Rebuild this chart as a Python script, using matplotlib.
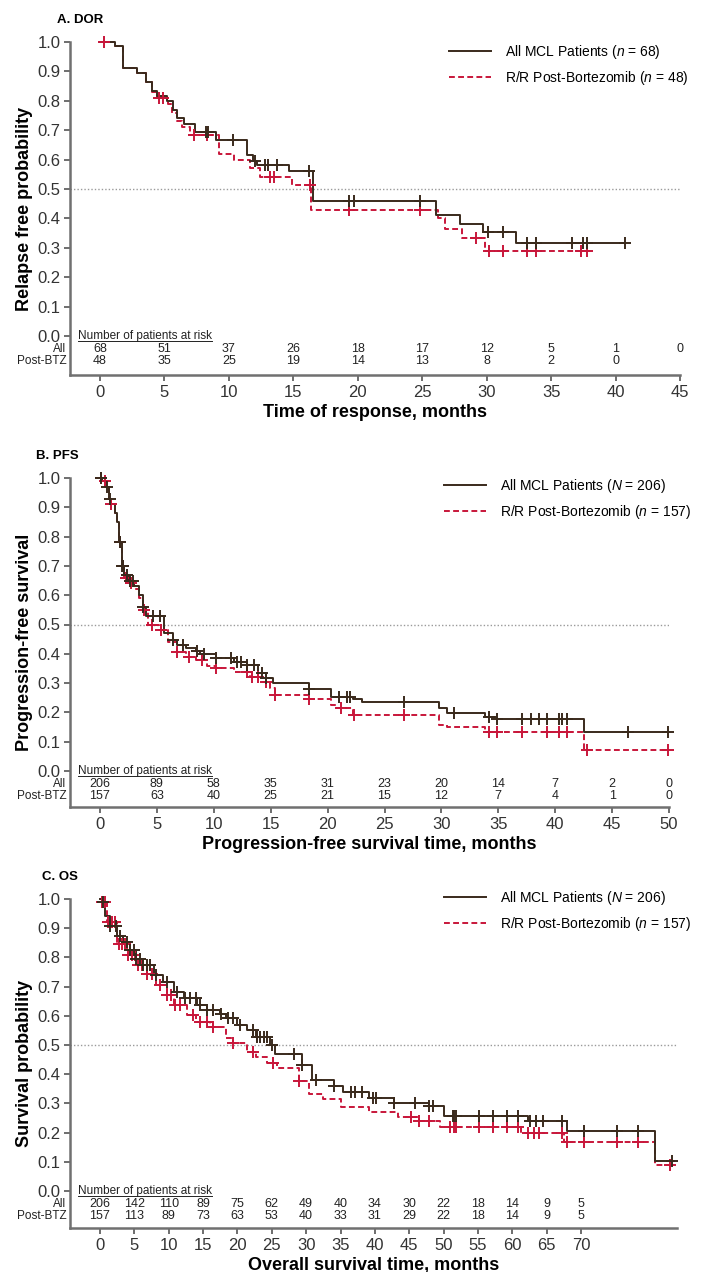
import numpy as np
import matplotlib
matplotlib.use("Agg")
import matplotlib.pyplot as plt
from matplotlib.lines import Line2D

plt.rcParams["font.family"] = ["Liberation Sans", "DejaVu Sans"]
plt.rcParams["mathtext.fontset"] = "custom"
plt.rcParams["mathtext.rm"] = "Liberation Sans"
plt.rcParams["mathtext.it"] = "Liberation Sans:italic"

# ---- A. DOR ----
a_all_t = [0, 1.2, 1.8, 2.85, 3.6, 4.0, 4.4, 5.2, 5.7, 6.0, 6.5, 7.4, 9.0, 11.4, 11.9, 12.2,
           14.7, 16.5, 26.1, 27.9, 29.7, 32.3]
a_all_s = [1.0, 0.985, 0.91, 0.895, 0.865, 0.835, 0.815, 0.80, 0.77, 0.74, 0.72, 0.695, 0.665,
           0.615, 0.595, 0.58, 0.56, 0.46, 0.41, 0.38, 0.355, 0.315]
a_all_end = 40.7
a_all_c = [8.2, 8.4, 10.3, 12.0, 12.8, 13.0, 13.7, 16.2, 19.3, 19.7, 24.8, 30.1, 31.3, 33.1,
           33.8, 36.6, 37.5, 37.8, 40.7]
a_btz_t = [0, 1.2, 1.8, 2.85, 3.6, 4.0, 4.4, 5.3, 5.6, 6.0, 6.4, 7.0, 9.2, 10.4, 11.6, 12.4,
           14.9, 16.4, 26.2, 26.8, 28.1, 29.9]
a_btz_s = [1.0, 0.985, 0.91, 0.895, 0.865, 0.83, 0.81, 0.79, 0.76, 0.73, 0.71, 0.685, 0.62,
           0.60, 0.57, 0.54, 0.515, 0.43, 0.40, 0.365, 0.335, 0.29]
a_btz_end = 38.0
a_btz_c = [0.3, 4.6, 4.9, 7.3, 8.3, 13.2, 13.5, 16.3, 19.3, 24.8, 29.2, 30.2, 31.3, 33.1,
           33.8, 37.3, 37.8]
a_risk_t = [0, 5, 10, 15, 20, 25, 30, 35, 40, 45]
a_risk_all = [68, 51, 37, 26, 18, 17, 12, 5, 1, 0]
a_risk_btz = [48, 35, 25, 19, 14, 13, 8, 2, 0]

# ---- B. PFS ----
b_all_t = [0, 0.2, 0.5, 0.8, 1.0, 1.3, 1.5, 1.7, 1.9, 2.1, 2.5, 3.0, 3.4, 3.8, 4.0, 5.6, 6.4,
           6.8, 7.6, 8.4, 8.8, 10.2, 11.8, 12.9, 13.9, 14.6, 15.2, 18.4, 20.3, 22.2, 23.0,
           29.8, 30.5, 33.8, 34.9, 42.5]
b_all_s = [1.0, 0.99, 0.97, 0.93, 0.91, 0.88, 0.85, 0.78, 0.70, 0.67, 0.65, 0.63, 0.60, 0.56,
           0.53, 0.47, 0.447, 0.43, 0.42, 0.41, 0.40, 0.385, 0.373, 0.362, 0.333, 0.316, 0.30,
           0.279, 0.254, 0.245, 0.234, 0.214, 0.199, 0.185, 0.177, 0.134]
b_all_end = 50.0
b_all_c = [0.1, 0.6, 0.9, 1.8, 1.9, 2.05, 2.35, 2.6, 2.9, 3.8, 4.7, 5.3, 6.4, 7.3, 8.5, 9.1,
           10.2, 11.5, 12.0, 12.4, 12.9, 13.5, 14.2, 14.6, 18.4, 21.0, 21.7, 22.0, 26.7, 31.1,
           34.2, 34.9, 37.1, 37.9, 38.6, 39.3, 40.3, 40.6, 41.0, 46.4, 49.9]
b_btz_t = [0, 0.2, 0.5, 0.8, 1.0, 1.3, 1.5, 1.7, 1.9, 2.1, 2.5, 3.0, 3.4, 3.8, 4.2, 5.2, 6.0,
           6.8, 7.6, 8.4, 9.4, 10.2, 11.8, 13.2, 14.2, 14.9, 15.4, 18.4, 20.3, 20.8, 22.2,
           29.8, 30.5, 33.8, 42.5]
b_btz_s = [1.0, 0.99, 0.97, 0.93, 0.91, 0.88, 0.85, 0.78, 0.70, 0.66, 0.64, 0.62, 0.59, 0.55,
           0.50, 0.48, 0.44, 0.407, 0.39, 0.379, 0.36, 0.35, 0.339, 0.322, 0.305, 0.282,
           0.259, 0.245, 0.225, 0.215, 0.191, 0.157, 0.149, 0.134, 0.072]
b_btz_end = 50.0
b_btz_c = [0.1, 0.4, 1.0, 1.8, 2.0, 2.3, 2.7, 3.9, 4.6, 5.4, 6.8, 7.8, 9.0, 10.2, 12.9, 13.4,
           13.9, 14.6, 15.4, 18.4, 21.2, 22.3, 26.7, 34.2, 34.9, 37.1, 39.3, 40.3, 41.0, 42.8,
           49.9]
b_risk_t = [0, 5, 10, 15, 20, 25, 30, 35, 40, 45, 50]
b_risk_all = [206, 89, 58, 35, 31, 23, 20, 14, 7, 2, 0]
b_risk_btz = [157, 63, 40, 25, 21, 15, 12, 7, 4, 1, 0]

# ---- C. OS ----
c_all_t = [0, 0.25, 0.7, 1.46, 2.43, 3.4, 4.37, 5.3, 6.3, 7.8, 9.2, 10.7, 12.2, 14.1, 15.6,
           17.5, 18.4, 19.9, 21.4, 22.7, 24.7, 25.5, 29.4, 30.9, 34.0, 35.3, 39.2, 42.8, 47.9,
           50.0, 62.3, 68.0, 80.7]
c_all_s = [1.0, 0.99, 0.943, 0.909, 0.875, 0.852, 0.824, 0.795, 0.773, 0.739, 0.716, 0.682,
           0.66, 0.636, 0.619, 0.605, 0.591, 0.568, 0.551, 0.527, 0.50, 0.47, 0.43, 0.38,
           0.359, 0.34, 0.318, 0.301, 0.29, 0.256, 0.24, 0.205, 0.102]
c_all_end = 83.5
c_all_c = [0.5, 1.5, 2.4, 2.9, 3.9, 4.4, 4.9, 5.3, 5.8, 6.3, 6.8, 7.3, 8.2, 9.7, 11.2, 12.4,
           13.1, 14.0, 14.6, 15.6, 16.5, 17.6, 18.6, 19.4, 20.4, 22.3, 22.8, 23.3, 23.8, 24.3,
           25.0, 28.2, 29.4, 31.5, 34.0, 36.6, 37.1, 38.1, 39.7, 40.2, 42.8, 45.9, 47.9, 48.4,
           51.3, 51.5, 51.8, 55.1, 57.2, 59.2, 60.8, 62.6, 63.4, 64.4, 67.2, 70.5, 75.2, 78.3,
           83.2]
c_btz_t = [0, 0.25, 0.97, 2.43, 3.9, 5.3, 6.8, 8.2, 9.7, 10.7, 12.6, 14.0, 16.0, 18.4, 19.4,
           21.4, 22.7, 24.3, 25.7, 28.9, 30.4, 32.5, 35.0, 39.2, 43.3, 46.4, 49.5, 61.3, 67.5,
           80.7]
c_btz_s = [1.0, 0.99, 0.92, 0.847, 0.807, 0.773, 0.744, 0.705, 0.67, 0.636, 0.602, 0.58,
           0.563, 0.523, 0.506, 0.477, 0.46, 0.438, 0.42, 0.377, 0.332, 0.315, 0.286, 0.269,
           0.252, 0.24, 0.218, 0.198, 0.168, 0.088]
c_btz_end = 83.1
c_btz_c = [0.25, 0.7, 1.2, 1.7, 2.2, 2.7, 3.2, 3.6, 4.1, 4.6, 5.1, 5.6, 6.1, 6.8, 7.5, 8.7,
           9.7, 10.4, 10.9, 11.7, 13.6, 14.6, 15.6, 16.5, 19.4, 22.3, 25.2, 28.9, 45.3, 46.4,
           47.9, 51.0, 51.5, 51.8, 55.1, 57.2, 59.2, 60.8, 62.3, 63.1, 63.9, 67.2, 68.0, 70.5,
           75.2, 78.3, 82.9]
c_risk_t = [0, 5, 10, 15, 20, 25, 30, 35, 40, 45, 50, 55, 60, 65, 70]
c_risk_all = [206, 142, 110, 89, 75, 62, 49, 40, 34, 30, 22, 18, 14, 9, 5]
c_risk_btz = [157, 113, 89, 73, 63, 53, 40, 33, 31, 29, 22, 18, 14, 9, 5]

SOLID = "#3a2a1c"
RED = "#c8163a"
W, H = 704, 1272


def km(ax, t, s, end, cens, color, dashed):
    t = np.asarray(t, float)
    s = np.asarray(s, float)
    kw = dict(color=color, lw=1.4, clip_on=False, zorder=3 if not dashed else 2)
    line, = ax.step(np.r_[t, end], np.r_[s, s[-1]], where="post", **kw)
    if dashed:
        line.set_dashes((3.0, 1.7))
    idx = np.searchsorted(t, cens, side="right") - 1
    ax.plot(cens, s[idx], "+", color=color, ms=8, mew=1.4, clip_on=False, zorder=4)


def panel(px, title, title_x, xmax, xrange_px, xlabel, ylabel, risk_t, risk_all, risk_btz,
          ticks, leg_labels, leg_pos):
    top, zero, bottom = px
    x0, xr = xrange_px
    ppm = (xr - x0) / ticks[-1]
    xlim_l = -(x0 - 70) / ppm
    x_right = x0 + xmax * ppm
    ax = fig.add_axes([70 / W, 1 - bottom / H, (x_right - 70) / W, (bottom - top) / H])
    ax.set_xlim(xlim_l, xmax)
    ax.set_ylim(-(bottom - zero) / (zero - top), 1.0)
    for side in ("top", "right"):
        ax.spines[side].set_visible(False)
    for side in ("left", "bottom"):
        ax.spines[side].set_color("#707070")
        ax.spines[side].set_linewidth(1.8)
    ax.set_yticks(np.arange(0, 1.01, 0.1))
    ax.set_yticklabels([f"{v:.1f}" for v in np.arange(0, 1.01, 0.1)])
    ax.set_xticks(ticks)
    ax.tick_params(axis="both", colors="#555555", labelcolor="#333333", labelsize=12,
                   length=4, width=1.2, pad=3)
    ax.axhline(0.5, color="#9a9a9a", lw=1.0, ls=(0, (1, 1.5)), zorder=1)
    ax.set_xlabel(xlabel, fontsize=13, fontweight="bold", labelpad=3)
    ax.set_ylabel(ylabel, fontsize=13, fontweight="bold", labelpad=3)
    fig.text(title_x / W, 1 - (top - 22) / H, title, fontsize=9.5, fontweight="bold",
             va="center", ha="left")

    # number at risk
    y_all = -(13 / (zero - top))
    y_btz = -(25 / (zero - top))
    hd = ax.text(xlim_l + 8 / ppm, 0.0, "Number of patients at risk", fontsize=8.5,
                 va="center", ha="left", color="#222222")
    for tt, v in zip(risk_t, risk_all):
        ax.text(tt, y_all, str(v), fontsize=9, ha="center", va="center", color="#222222")
    for tt, v in zip(risk_t, risk_btz):
        ax.text(tt, y_btz, str(v), fontsize=9, ha="center", va="center", color="#222222")
    ax.text(-0.006, y_all, "All", transform=ax.get_yaxis_transform(), fontsize=8.5,
            ha="right", va="center", color="#222222")
    ax.text(-0.006, y_btz, "Post-BTZ", transform=ax.get_yaxis_transform(), fontsize=8.5,
            ha="right", va="center", color="#222222")

    handles = [Line2D([], [], color=SOLID, lw=1.4),
               Line2D([], [], color=RED, lw=1.4, dashes=(3.0, 1.7))]
    ax.legend(handles, leg_labels, loc="upper left",
              bbox_to_anchor=(leg_pos[0] / W, 1 - leg_pos[1] / H),
              bbox_transform=fig.transFigure, frameon=False, fontsize=10,
              handlelength=3.0, handletextpad=1.0, labelspacing=0.55,
              borderpad=0, borderaxespad=0)
    return ax, hd


fig = plt.figure(figsize=(W / 100, H / 100), dpi=100)

axA, hA = panel((42, 336, 375), "A. DOR", 57, 45, (100, 680), "Time of response, months",
                "Relapse free probability", a_risk_t, a_risk_all, a_risk_btz,
                list(range(0, 46, 5)),
                ["All MCL Patients ($n$ = 68)", "R/R Post-Bortezomib ($n$ = 48)"], (449, 43))
km(axA, a_btz_t, a_btz_s, a_btz_end, a_btz_c, RED, True)
km(axA, a_all_t, a_all_s, a_all_end, a_all_c, SOLID, False)

axB, hB = panel((478, 771, 807), "B. PFS", 36, 50, (100, 669),
                "Progression-free survival time, months", "Progression-free survival",
                b_risk_t, b_risk_all, b_risk_btz, list(range(0, 51, 5)),
                ["All MCL Patients ($N$ = 206)", "R/R Post-Bortezomib ($n$ = 157)"], (444, 477))
km(axB, b_btz_t, b_btz_s, b_btz_end, b_btz_c, RED, True)
km(axB, b_all_t, b_all_s, b_all_end, b_all_c, SOLID, False)

axC, hC = panel((899, 1191, 1228), "C. OS", 42, 84, (100, 581),
                "Overall survival time, months", "Survival probability",
                c_risk_t, c_risk_all, c_risk_btz, list(range(0, 71, 5)),
                ["All MCL Patients ($N$ = 206)", "R/R Post-Bortezomib ($n$ = 157)"], (444, 889))
km(axC, c_btz_t, c_btz_s, c_btz_end, c_btz_c, RED, True)
km(axC, c_all_t, c_all_s, c_all_end, c_all_c, SOLID, False)

# underline the "Number of patients at risk" headings
fig.canvas.draw()
r = fig.canvas.get_renderer()
inv = fig.transFigure.inverted()
for hd in (hA, hB, hC):
    bb = hd.get_window_extent(r)
    (fx0, fy0), (fx1, _) = inv.transform([(bb.x0, bb.y0 + 1), (bb.x1, bb.y0)])
    fig.add_artist(Line2D([fx0, fx1], [fy0, fy0], transform=fig.transFigure,
                          color="#222222", lw=0.7))

fig.savefig("out.png", dpi=100)
